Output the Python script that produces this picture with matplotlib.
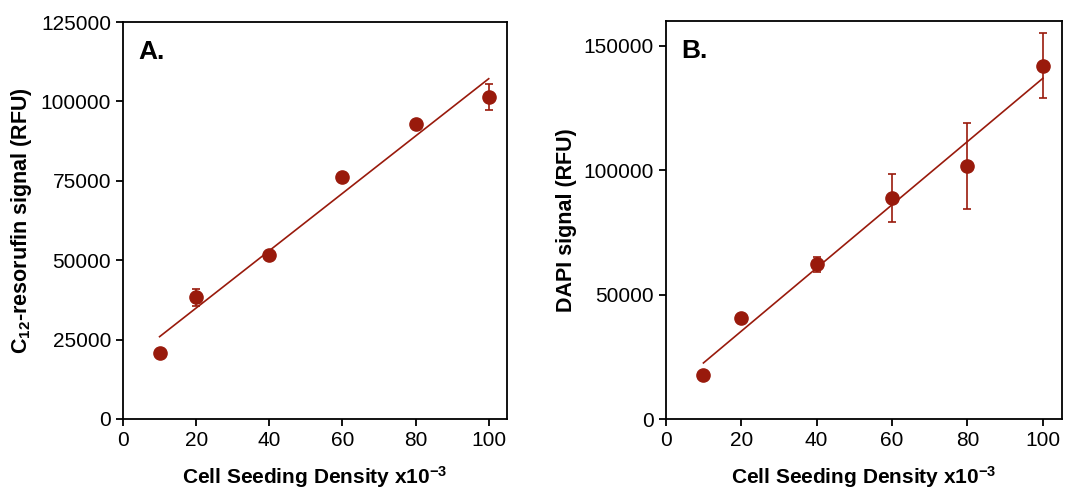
import numpy as np
import matplotlib
matplotlib.use("Agg")
import matplotlib.pyplot as plt

plt.rcParams['font.family'] = ['Liberation Sans', 'DejaVu Sans']
plt.rcParams['mathtext.fontset'] = 'custom'
plt.rcParams['mathtext.rm'] = 'Liberation Sans:bold'
plt.rcParams['mathtext.bf'] = 'Liberation Sans:bold'
plt.rcParams['mathtext.it'] = 'Liberation Sans:bold'

# cell seeding density (x10^-3)
density = [10, 20, 40, 60, 80, 100]

# panel A: C12-resorufin
resorufin = [20800, 38300, 51500, 76200, 93000, 101400]
resorufin_err = [0, 2700, 0, 0, 0, 4200]

# panel B: DAPI
dapi = [17700, 40800, 62200, 88900, 101600, 141900]
dapi_err = [0, 0, 3000, 9600, 17300, 13100]

red = '#991a0c'

fig = plt.figure(figsize=(10.66, 4.9), dpi=100)
axA = fig.add_axes([0.1154, 0.1449, 0.3602, 0.8101])
axB = fig.add_axes([0.6245, 0.1443, 0.3715, 0.8135])


def panel(ax, y, err, ymax, yticks, ylabel, tag):
    x = np.array(density)
    ax.errorbar(x, y, yerr=err, fmt='o', color=red, ms=9.5, elinewidth=1.2,
                capsize=3, capthick=1.2, zorder=3)
    slope, icpt = np.polyfit(x, y, 1)
    xs = np.array([min(density), max(density)])
    ax.plot(xs, slope * xs + icpt, color=red, lw=1.2, zorder=2)
    ax.set_xlim(0, 105)
    ax.set_ylim(0, ymax)
    ax.set_xticks([0, 20, 40, 60, 80, 100])
    ax.set_yticks(yticks)
    ax.tick_params(labelsize=15, width=1.3, length=5, direction='out')
    for s in ax.spines.values():
        s.set_linewidth(1.3)
    ax.set_xlabel(r'Cell Seeding Density x10$^{-3}$', fontsize=15,
                  fontweight='bold', labelpad=10)
    ax.set_ylabel(ylabel, fontsize=15.5, fontweight='bold', labelpad=5)
    ax.text(0.04, 0.925, tag, transform=ax.transAxes, fontsize=19,
            fontweight='bold', va='center', ha='left')


panel(axA, resorufin, resorufin_err, 125000,
      [0, 25000, 50000, 75000, 100000, 125000],
      r'C$_{12}$-resorufin signal (RFU)', 'A.')
panel(axB, dapi, dapi_err, 160000,
      [0, 50000, 100000, 150000],
      'DAPI signal (RFU)', 'B.')

fig.savefig('out.png', dpi=100)
